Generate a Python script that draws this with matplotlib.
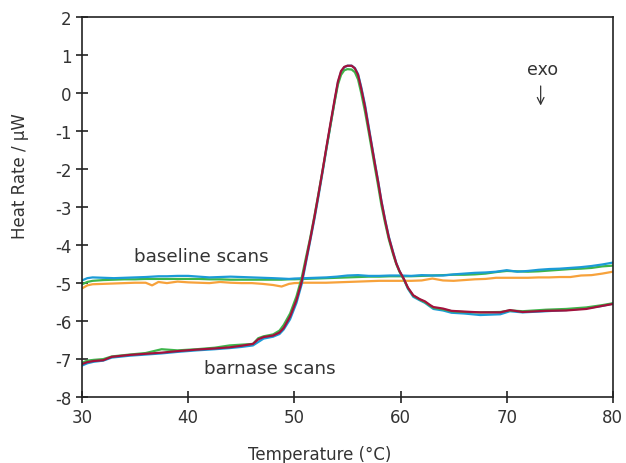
import matplotlib
matplotlib.use("Agg")
import matplotlib.pyplot as plt

# baseline scans (buffer vs buffer)
baseline_temp = [30, 30.5, 31, 32, 33, 34, 35, 36, 36.6, 37.2, 38, 39, 40, 41, 42, 43, 44, 45, 46, 47, 48, 48.8, 49.5,
                 50, 51, 52, 53, 54, 55, 56, 57, 58, 59, 60, 61, 62, 63, 64, 65, 66, 67, 68, 69, 70,
                 71, 72, 73, 74, 75, 76, 77, 78, 79, 80]
baseline_blue = [-4.93, -4.87, -4.85, -4.86, -4.87, -4.86, -4.85, -4.84, -4.83, -4.82, -4.82, -4.81, -4.81, -4.83,
                 -4.85, -4.84, -4.83, -4.84, -4.85, -4.86, -4.87, -4.88, -4.89,
                 -4.88, -4.87, -4.86, -4.85, -4.83, -4.80, -4.79, -4.81, -4.81, -4.80, -4.80, -4.81, -4.79, -4.80,
                 -4.80, -4.77, -4.75, -4.73, -4.72, -4.70, -4.66, -4.70, -4.68, -4.65, -4.63, -4.62, -4.60, -4.58,
                 -4.55, -4.51, -4.46]
baseline_green = [-5.03, -4.97, -4.94, -4.92, -4.91, -4.90, -4.90, -4.89, -4.89, -4.89, -4.89, -4.89, -4.89, -4.89,
                  -4.90, -4.90, -4.91, -4.91, -4.91, -4.91, -4.91, -4.91, -4.90,
                  -4.90, -4.89, -4.88, -4.87, -4.86, -4.85, -4.84, -4.83, -4.83, -4.82, -4.82, -4.82, -4.81, -4.80,
                  -4.79, -4.78, -4.78, -4.77, -4.75, -4.71, -4.68, -4.69, -4.70, -4.69, -4.67, -4.65, -4.63, -4.62,
                  -4.60, -4.56, -4.54]
baseline_orange = [-5.14, -5.06, -5.03, -5.02, -5.01, -5.00, -4.99, -4.99, -5.06, -4.97, -5.00, -4.96, -4.98, -4.99,
                   -5.00, -4.97, -4.99, -5.00, -5.00, -5.02, -5.05, -5.09, -5.02,
                   -5.00, -4.99, -4.99, -4.99, -4.98, -4.97, -4.96, -4.95, -4.94, -4.94, -4.94, -4.94, -4.93, -4.88,
                   -4.93, -4.94, -4.92, -4.90, -4.89, -4.86, -4.86, -4.86, -4.86, -4.85, -4.85, -4.84, -4.84, -4.80,
                   -4.79, -4.75, -4.70]

# barnase scans
barnase_temp = [30, 30.5, 31.1, 32, 32.8, 34.5, 36, 37.5, 39, 40.8, 42.5, 43.9, 45, 46.1, 46.6, 47.1, 48, 48.6, 49,
                49.6, 50.2, 50.7, 51.1, 51.5, 51.9, 52.25, 52.65, 53.04, 53.4, 53.8, 54.1, 54.4, 54.7, 55, 55.4,
                55.7, 56, 56.3, 56.65, 57, 57.3, 57.6, 57.9, 58.2, 58.55, 58.9, 59.3, 59.6, 59.9, 60.3, 60.7,
                61.2, 61.8, 62.3, 62.8, 63.1, 64, 64.8, 66, 67.5, 69.4, 70.3, 71.5, 73.7, 75.6, 77.5, 79, 80]
barnase_red = [-7.13, -7.08, -7.05, -7.03, -6.94, -6.89, -6.86, -6.83, -6.79, -6.75, -6.72, -6.69, -6.65, -6.60,
               -6.48, -6.42, -6.38, -6.30, -6.18, -5.88, -5.45, -4.95, -4.40, -3.84, -3.25, -2.70, -2.05, -1.39,
               -0.80, -0.16, 0.30, 0.58, 0.69, 0.72, 0.72, 0.65, 0.48, 0.12, -0.35, -0.92, -1.40, -1.88, -2.35,
               -2.85, -3.35, -3.80, -4.20, -4.48, -4.68, -4.88, -5.12, -5.32, -5.42, -5.48, -5.58, -5.63, -5.67,
               -5.73, -5.75, -5.77, -5.77, -5.71, -5.76, -5.73, -5.72, -5.68, -5.60, -5.55]
barnase_blue = [-7.17, -7.11, -7.07, -7.04, -6.96, -6.91, -6.88, -6.85, -6.81, -6.77, -6.74, -6.71, -6.68, -6.64,
                -6.55, -6.46, -6.41, -6.34, -6.22, -5.95, -5.52, -5.02, -4.45, -3.88, -3.30, -2.75, -2.10, -1.44,
                -0.85, -0.20, 0.27, 0.56, 0.68, 0.72, 0.72, 0.66, 0.50, 0.16, -0.30, -0.88, -1.37, -1.86, -2.33,
                -2.83, -3.33, -3.78, -4.18, -4.47, -4.68, -4.89, -5.15, -5.36, -5.45, -5.52, -5.62, -5.68, -5.72,
                -5.78, -5.80, -5.84, -5.82, -5.74, -5.77, -5.74, -5.71, -5.66, -5.60, -5.54]
barnase_green = [-7.10, -7.04, -7.02, -7.00, -6.93, -6.88, -6.84, -6.74, -6.77, -6.74, -6.70, -6.64, -6.62, -6.60,
                 -6.45, -6.40, -6.35, -6.25, -6.10, -5.80, -5.35, -4.85, -4.32, -3.80, -3.22, -2.68, -2.05, -1.42,
                 -0.85, -0.22, 0.22, 0.48, 0.60, 0.63, 0.62, 0.55, 0.36, 0.00, -0.48, -1.02, -1.50, -1.98, -2.45,
                 -2.95, -3.42, -3.85, -4.24, -4.50, -4.70, -4.90, -5.13, -5.33, -5.43, -5.50, -5.60, -5.65, -5.69,
                 -5.74, -5.76, -5.77, -5.76, -5.72, -5.74, -5.70, -5.68, -5.64, -5.58, -5.53]

blue = "#1b9bd7"
green = "#3db54a"
orange = "#f7a23b"
red = "#a3113c"
txt = "#333333"

plt.rcParams['font.family'] = ['DejaVu Sans']
plt.rcParams['font.size'] = 12
plt.rcParams['axes.unicode_minus'] = False

fig = plt.figure(figsize=(6.26, 4.64), dpi=100)
ax = fig.add_axes([0.131, 0.142, 0.848, 0.819])

lw = 1.6
ax.plot(baseline_temp, baseline_orange, color=orange, lw=lw)
ax.plot(baseline_temp, baseline_green, color=green, lw=lw)
ax.plot(baseline_temp, baseline_blue, color=blue, lw=lw)
ax.plot(barnase_temp, barnase_blue, color=blue, lw=lw)
ax.plot(barnase_temp, barnase_green, color=green, lw=lw)
ax.plot(barnase_temp, barnase_red, color=red, lw=lw)

ax.set_xlim(30, 80)
ax.set_ylim(-8, 2)
ax.set_xticks(range(30, 81, 10))
ax.set_yticks(range(-8, 3))

for s in ax.spines.values():
    s.set_color("#222222")
    s.set_linewidth(1.2)
ax.tick_params(direction="inout", length=8, width=1.2, color="#222222", labelcolor=txt, labelsize=12)

ax.set_xlabel("Temperature (°C)", color=txt, fontsize=12)
ax.set_ylabel("Heat Rate / µW", color=txt, fontsize=12)
ax.xaxis.set_label_coords(0.448, -0.125)
ax.yaxis.set_label_coords(-0.10, 0.584)

ax.text(41.2, -4.29, "baseline scans", ha="center", va="center", color=txt, fontsize=13.2)
ax.text(47.7, -7.24, "barnase scans", ha="center", va="center", color=txt, fontsize=13.2)
ax.text(73.4, 0.63, "exo", ha="center", va="center", color=txt, fontsize=12.5)
ax.annotate("", xy=(73.2, -0.4), xytext=(73.2, 0.26),
            arrowprops=dict(arrowstyle="->", color=txt, lw=0.9))

fig.savefig("out.png", dpi=100)
